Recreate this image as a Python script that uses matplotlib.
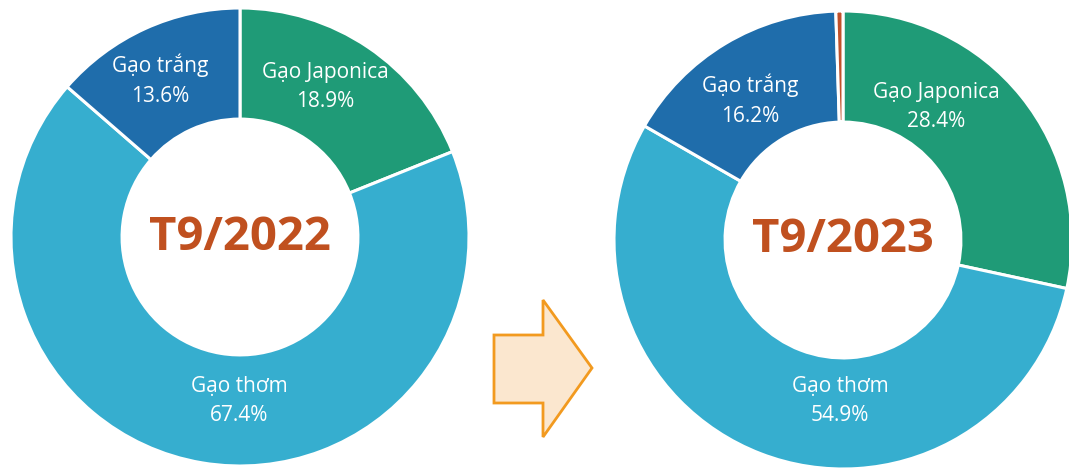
import matplotlib.pyplot as plt
from matplotlib.patches import Polygon

# du lieu co cau xuat khau gao
loai = ['Gạo Japonica', 'Gạo thơm', 'Gạo trắng', 'Khác']
ty_le_2022 = [18.9, 67.4, 13.6, 0.1]
ty_le_2023 = [28.4, 54.9, 16.2, 0.5]
nhan = ['T9/2022', 'T9/2023']
mau = ['#1f9b77', '#36aecf', '#1f6dab', '#c0512a']

W, H = 1069, 468
fig = plt.figure(figsize=(W / 100, H / 100), dpi=100)
ax = fig.add_axes([0, 0, 1, 1])

R = 229
tam = [(240, H - 237), (843, H - 240)]
# vi tri nhan (pixel, tu tren xuong)
vitri_nhan = [
    [(325, 87), (239, 401), (160, 80)],
    [(936, 107), (840, 401), (750, 100)],
]

for k, ty_le in enumerate([ty_le_2022, ty_le_2023]):
    vals = ty_le if ty_le[-1] > 0.2 else ty_le[:3]
    ax.pie(vals, colors=mau[:len(vals)], startangle=90, counterclock=False,
           center=tam[k], radius=R,
           wedgeprops=dict(width=R * 0.485, edgecolor='white', linewidth=2.2))
    for i in range(3):
        x, y = vitri_nhan[k][i]
        ax.text(x, H - y, f'{loai[i]}\n{ty_le[i]:.1f}%', color='white',
                fontsize=15, ha='center', va='center', linespacing=1.55,
                family='Open Sans')
    ax.text(tam[k][0], tam[k][1], nhan[k], color='#c0501f', fontsize=34,
            fontweight='bold', ha='center', va='center', family='Open Sans')

# mui ten o giua
mui_ten = [(494, 335), (543, 335), (543, 300), (592, 368), (543, 437),
           (543, 403), (494, 403)]
ax.add_patch(Polygon([(x, H - y) for x, y in mui_ten], closed=True,
                     facecolor='#fbe7cf', edgecolor='#f29a1f', linewidth=2))

ax.set_xlim(0, W)
ax.set_ylim(0, H)
ax.set_aspect('equal')
ax.axis('off')

fig.savefig('out.png', dpi=100)
